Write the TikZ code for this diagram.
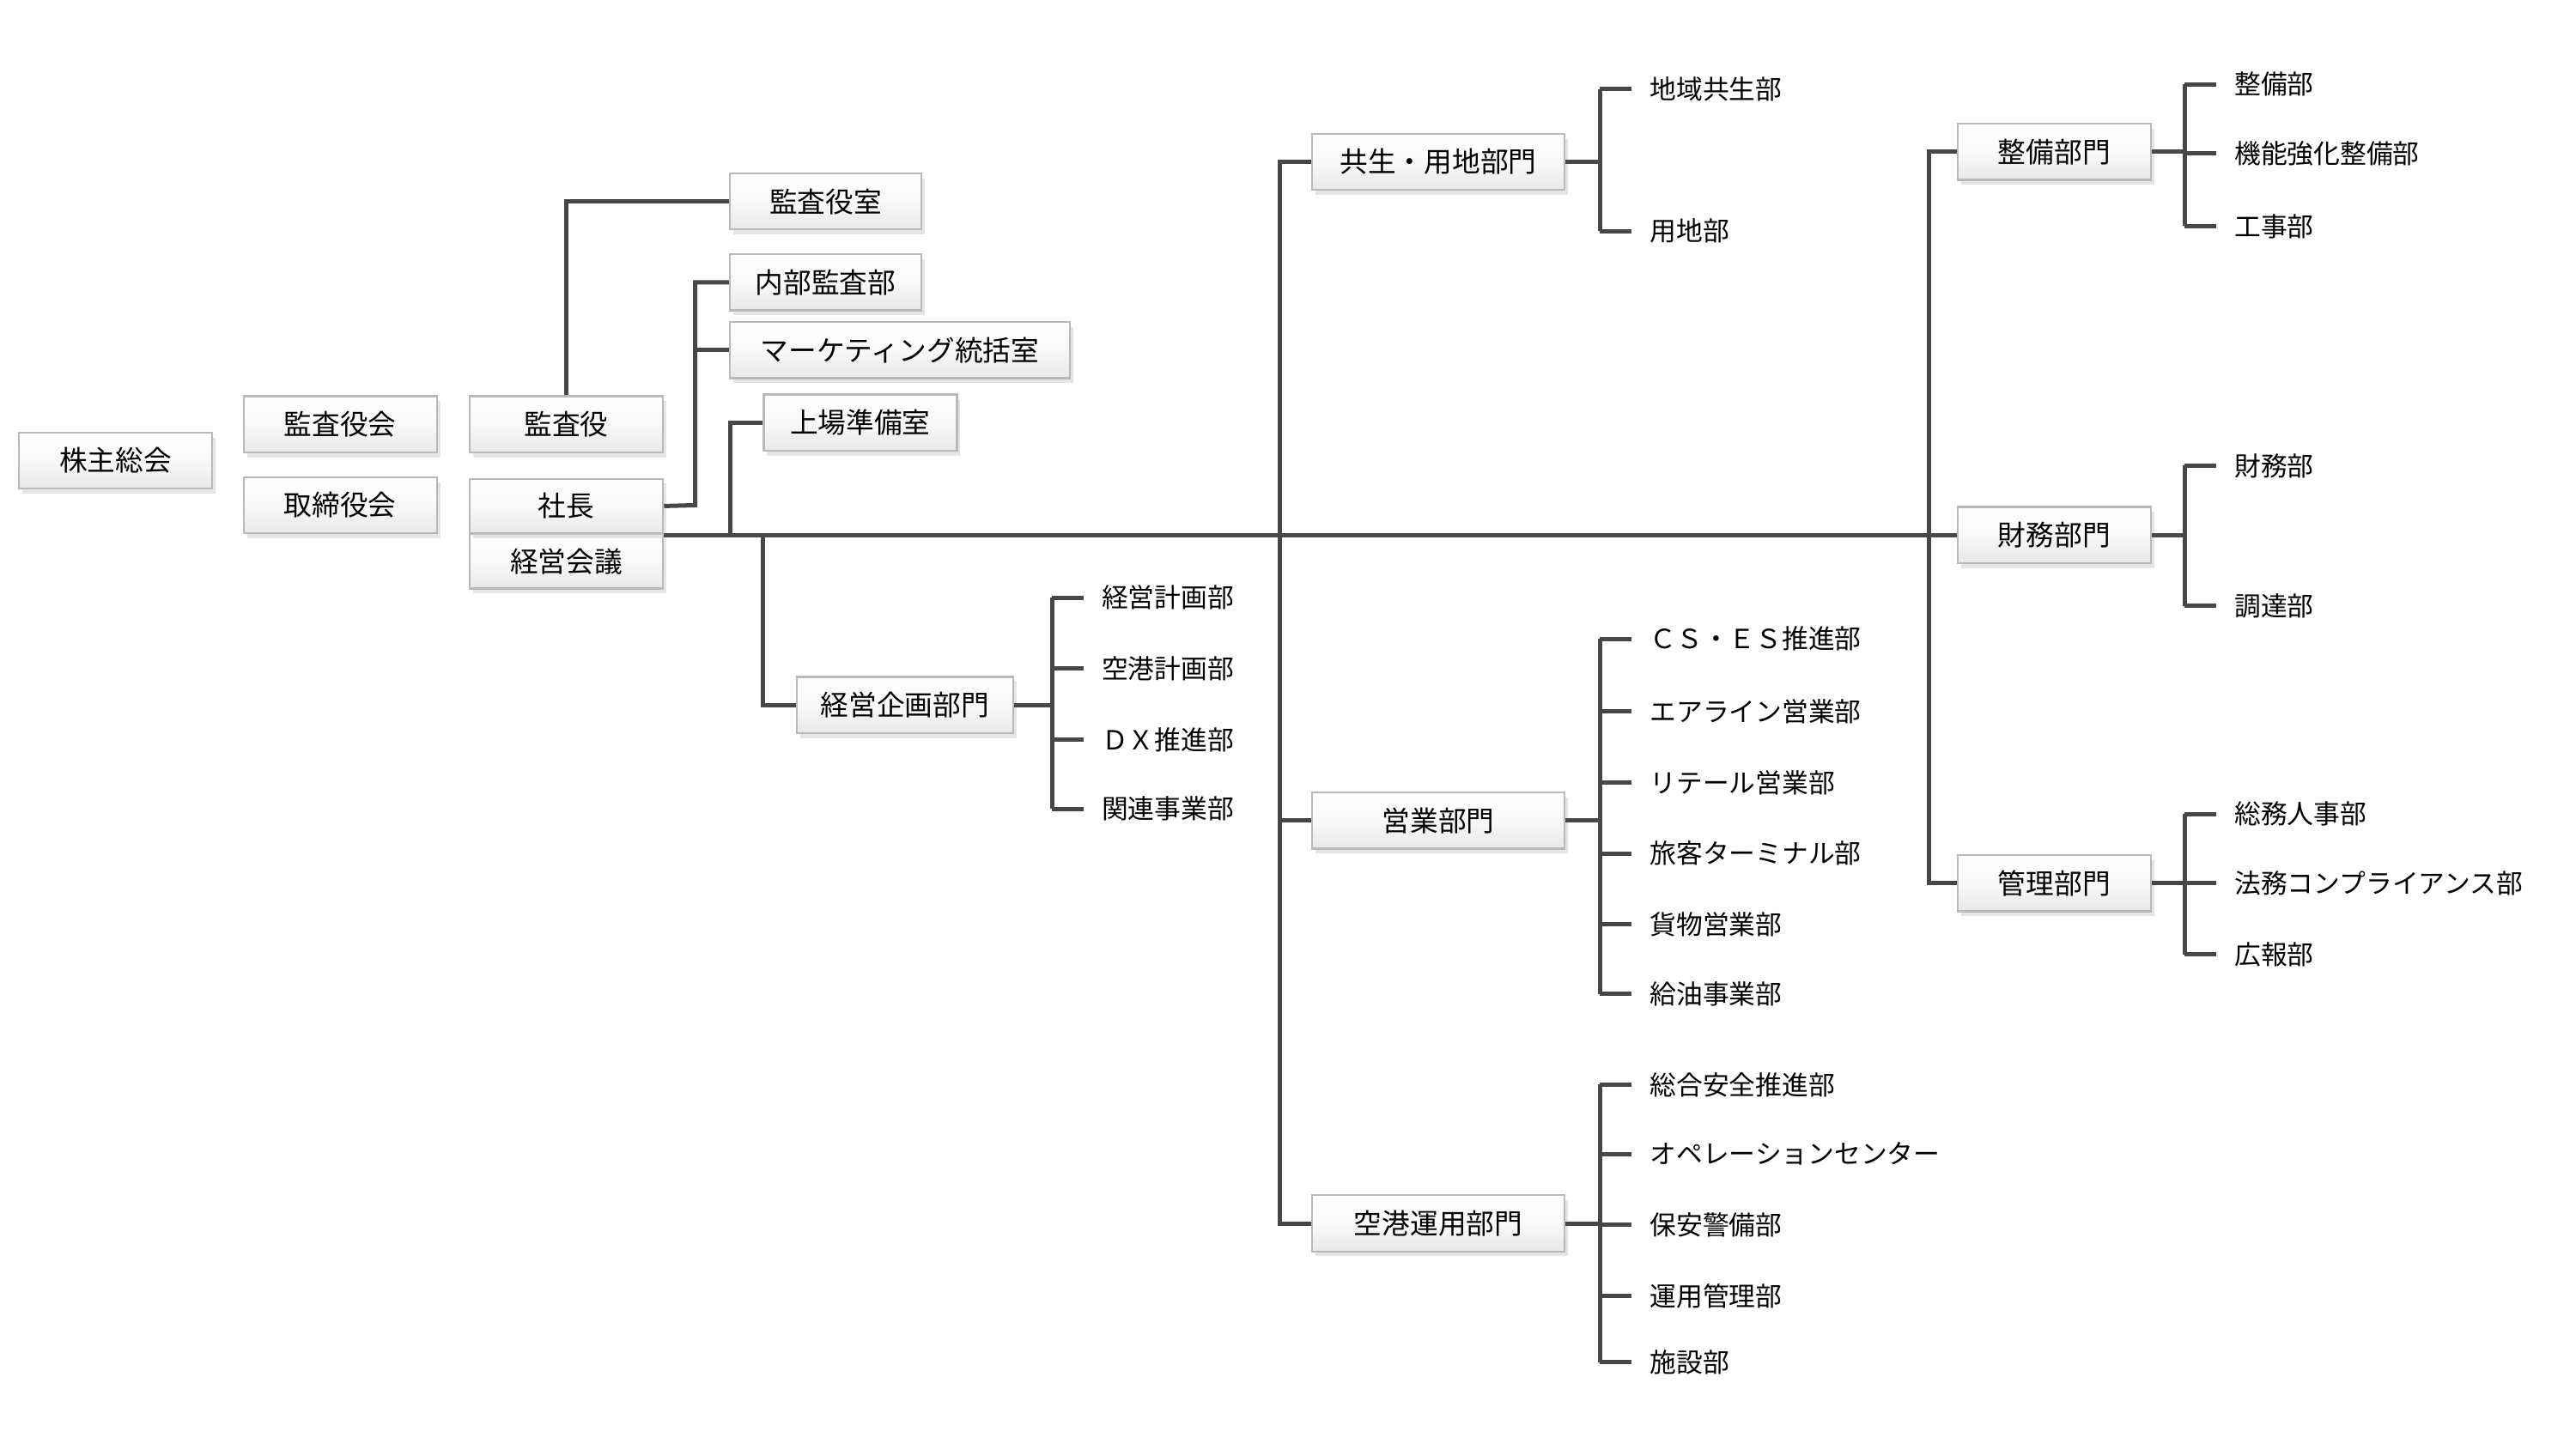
\documentclass[tikz,border=0pt]{standalone}
\usepackage{fontspec}
\setmainfont{Noto Sans CJK JP}
\usetikzlibrary{shadows}
\begin{document}
\begin{tikzpicture}[x=1pt,y=-1pt,
  orgbox/.style={draw=gray!55,line width=1.2pt,top color=white,bottom color=gray!18,middle color=white!95!gray,
    minimum height=34pt,inner sep=0pt,font=\fontsize{17}{17}\selectfont,
    drop shadow={shadow xshift=2pt,shadow yshift=-3pt,fill=gray!40,opacity=0.5}},
  lbl/.style={anchor=west,inner sep=0pt,font=\fontsize{16}{16}\selectfont},
  ln/.style={draw=black!72,line width=2.6pt},
  tk/.style={draw=black!72,line width=2.6pt}]
\useasboundingbox[fill=white] (0,0) rectangle (1560,878);
\node[orgbox,minimum width=117pt] (kabu) at (70,279) {株主総会};
\node[orgbox,minimum width=117pt] (kansakai) at (206,257) {監査役会};
\node[orgbox,minimum width=117pt] (torishimari) at (206,306) {取締役会};
\node[orgbox,minimum width=117pt] (kansayaku) at (343,257) {監査役};
\node[orgbox,minimum width=117pt,minimum height=33pt] (keiei) at (343,340) {経営会議};
\node[orgbox,minimum width=117pt,minimum height=33pt] (shacho) at (343,306.5) {社長};
\node[orgbox,minimum width=116pt] (kansashitsu) at (500,122) {監査役室};
\node[orgbox,minimum width=116pt] (naibu) at (500,171) {内部監査部};
\node[orgbox,minimum width=206pt] (mkt) at (545,212) {マーケティング統括室};
\node[orgbox,minimum width=117pt] (jojo) at (521,256) {上場準備室};
\node[orgbox,minimum width=131pt] (kikaku) at (548,427) {経営企画部門};
\node[orgbox,minimum width=153pt] (kyosei) at (871,98) {共生・用地部門};
\node[orgbox,minimum width=153pt] (eigyo) at (871,497) {営業部門};
\node[orgbox,minimum width=153pt] (kuko) at (871,741) {空港運用部門};
\node[orgbox,minimum width=117pt] (seibi) at (1244,92) {整備部門};
\node[orgbox,minimum width=117pt] (zaimu) at (1244,324) {財務部門};
\node[orgbox,minimum width=117pt] (kanri) at (1244,535) {管理部門};
% connectors
\coordinate (m1) at (343,122);
\draw[ln] (kansayaku.north) -- (m1) -- (kansashitsu.west);
\coordinate (s1) at (421,306);
\draw[ln] (shacho.east) -- (s1) |- (naibu.west);
\draw[ln] (s1) |- (mkt.west);
\coordinate (mainL) at (402,324);
\draw[ln] (mainL) -- (zaimu.west);
\coordinate (j1) at (442,324);
\draw[ln] (j1) |- (jojo.west);
\coordinate (k1) at (462,324);
\draw[ln] (k1) |- (kikaku.west);
\coordinate (v1) at (775,98);
\coordinate (v2) at (775,741);
\draw[ln] (kyosei.west) -- (v1) -- (v2) -- (kuko.west);
\draw[ln] (775,497) -- (eigyo.west);
\coordinate (w1) at (1168,92);
\coordinate (w2) at (1168,535);
\draw[ln] (seibi.west) -- (w1) -- (w2) -- (kanri.west);
% sub lists
\newcommand{\sublist}[4]{% parent, busx, labelx, list of y/text
  \foreach \yy/\tt [count=\i] in {#4} {
    \node[lbl] (#1l\i) at (#3,\yy) {\tt};
    \draw[tk] (#2,\yy) -- (#2+19,\yy);
  }
}
\sublist{kikaku}{637}{667}{362/経営計画部,405/空港計画部,448/ＤＸ推進部,490/関連事業部}
\draw[ln] (kikaku.east) -- (637,427); \draw[ln] (637,362) -- (637,490);
\sublist{kyosei}{969}{999}{54/地域共生部,140/用地部}
\draw[ln] (kyosei.east) -- (969,98); \draw[ln] (969,54) -- (969,140);
\sublist{eigyo}{969}{999}{387/ＣＳ・ＥＳ推進部,431/エアライン営業部,474/リテール営業部,517/旅客ターミナル部,560/貨物営業部,602/給油事業部}
\draw[ln] (eigyo.east) -- (969,497); \draw[ln] (969,387) -- (969,602);
\sublist{kuko}{969}{999}{657/総合安全推進部,699/オペレーションセンター,742/保安警備部,785/運用管理部,825/施設部}
\draw[ln] (kuko.east) -- (969,741); \draw[ln] (969,657) -- (969,825);
\sublist{seibi}{1323}{1353}{51/整備部,93/機能強化整備部,137/工事部}
\draw[ln] (seibi.east) -- (1323,92); \draw[ln] (1323,51) -- (1323,137);
\sublist{zaimu}{1323}{1353}{282/財務部,367/調達部}
\draw[ln] (zaimu.east) -- (1323,324); \draw[ln] (1323,282) -- (1323,367);
\sublist{kanri}{1323}{1353}{493/総務人事部,535/法務コンプライアンス部,578/広報部}
\draw[ln] (kanri.east) -- (1323,535); \draw[ln] (1323,493) -- (1323,578);
\end{tikzpicture}
\end{document}
